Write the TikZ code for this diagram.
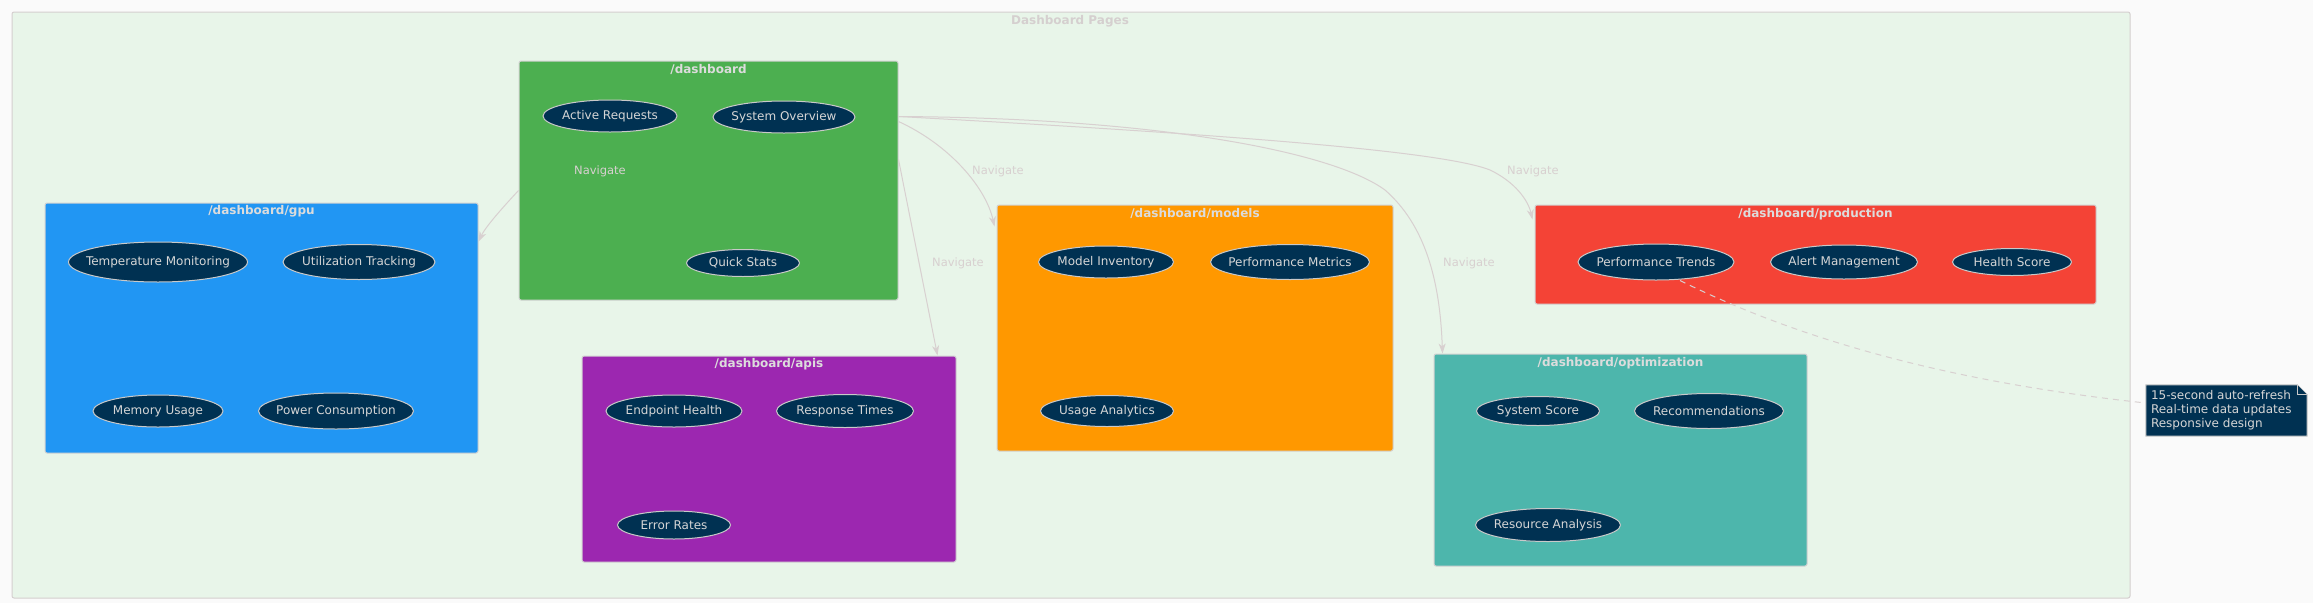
\documentclass[tikz,border=0pt]{standalone}
\usepackage{fontspec}
\setmainfont{DejaVu Sans}
\usetikzlibrary{shapes.geometric,arrows.meta,calc}
\definecolor{pagebg}{HTML}{FAFAFA}
\definecolor{outerfill}{HTML}{E8F5E9}
\definecolor{outerdraw}{HTML}{D5CFCF}
\definecolor{linec}{HTML}{D8D0D0}
\definecolor{navy}{HTML}{003152}
\definecolor{ellline}{HTML}{C9C9C9}
\definecolor{txtlight}{HTML}{D6D6D6}
\definecolor{titletxt}{HTML}{DCDCDC}
\definecolor{boxline}{HTML}{D2D2D2}
\definecolor{cgreen}{HTML}{4CAF50}
\definecolor{cblue}{HTML}{2196F3}
\definecolor{cpurple}{HTML}{9C27B0}
\definecolor{corange}{HTML}{FF9800}
\definecolor{cred}{HTML}{F44336}
\definecolor{cteal}{HTML}{4DB6AC}
\tikzset{
  utext/.style={text=txtlight, inner sep=0pt, font=\fontsize{12}{14}\selectfont},
  ucase/.style={ellipse, fill=navy, draw=ellline, line width=1pt, inner sep=0pt, label={[utext]center:#1}},
  pagebox/.style={rectangle, draw=boxline, line width=1pt, rounded corners=2pt, inner sep=0pt},
  boxtitle/.style={font=\fontsize{12}{14}\selectfont\bfseries, text=titletxt, inner sep=0pt},
  navlabel/.style={font=\fontsize{11.5}{14}\selectfont, text=linec, inner sep=0pt},
  edge/.style={draw=linec, line width=1pt, -{Stealth[length=10pt,width=7pt,inset=3pt]}},
  noteline/.style={draw=linec, line width=1pt, dash pattern=on 6pt off 5pt},
}
\begin{document}
\begin{tikzpicture}[x=1pt,y=-1pt]
\fill[pagebg] (0,0) rectangle (2313,603);
\useasboundingbox (0,0) rectangle (2313,603);
% outer container
\node[rectangle, draw=outerdraw, fill=outerfill, line width=1pt, rounded corners=2pt, minimum width=2118pt, minimum height=586pt, inner sep=0pt] (outer) at (1071,305) {};
\node[font=\fontsize{12}{14}\selectfont\bfseries, text=outerdraw, inner sep=0pt] (outertitle) at (1070,21) {Dashboard Pages};
% page boxes
\node[pagebox, fill=cgreen, minimum width=379pt, minimum height=239pt] (dash) at (708.5,180.5) {};
\node[pagebox, fill=cblue, minimum width=433pt, minimum height=250pt] (gpu) at (261.5,328) {};
\node[pagebox, fill=cpurple, minimum width=374pt, minimum height=206pt] (apis) at (769,459) {};
\node[pagebox, fill=corange, minimum width=396pt, minimum height=246pt] (models) at (1195,328) {};
\node[pagebox, fill=cred, minimum width=561pt, minimum height=99pt] (prod) at (1815.5,254.5) {};
\node[pagebox, fill=cteal, minimum width=373pt, minimum height=212pt] (opt) at (1620.5,460) {};
% titles
\node[boxtitle] (tdash) at (708.5,69) {/dashboard};
\node[boxtitle] (tgpu) at (261.5,211) {/dashboard/gpu};
\node[boxtitle] (tapis) at (769,364) {/dashboard/apis};
\node[boxtitle] (tmodels) at (1195,213) {/dashboard/models};
\node[boxtitle] (tprod) at (1815.5,214) {/dashboard/production};
\node[boxtitle] (topt) at (1620.5,363) {/dashboard/optimization};
% use cases
\node[ucase={Active Requests}, minimum width=134pt, minimum height=32pt] (AR) at (610,116) {};
\node[ucase={System Overview}, minimum width=142pt, minimum height=32pt] (SO) at (784,117) {};
\node[ucase={Quick Stats}, minimum width=113pt, minimum height=27pt] (QS) at (743,263) {};
\node[ucase={Temperature Monitoring}, minimum width=179pt, minimum height=40pt] (TM) at (158,262) {};
\node[ucase={Utilization Tracking}, minimum width=152pt, minimum height=35pt] (UT) at (359,262) {};
\node[ucase={Memory Usage}, minimum width=130pt, minimum height=32pt] (MU) at (158,411) {};
\node[ucase={Power Consumption}, minimum width=155pt, minimum height=36pt] (PC) at (336,411) {};
\node[ucase={Endpoint Health}, minimum width=136pt, minimum height=32pt] (EH) at (674,411) {};
\node[ucase={Response Times}, minimum width=137pt, minimum height=33pt] (RT) at (845,411) {};
\node[ucase={Error Rates}, minimum width=113pt, minimum height=28pt] (ER) at (674,525) {};
\node[ucase={Model Inventory}, minimum width=135pt, minimum height=32pt] (MI) at (1106,262) {};
\node[ucase={Performance Metrics}, minimum width=159pt, minimum height=35pt] (PM) at (1290,262) {};
\node[ucase={Usage Analytics}, minimum width=133pt, minimum height=31pt] (UA) at (1107,411) {};
\node[ucase={Performance Trends}, minimum width=156pt, minimum height=36pt] (PT) at (1656,262) {};
\node[ucase={Alert Management}, minimum width=147pt, minimum height=34pt] (AM) at (1844,262) {};
\node[ucase={Health Score}, minimum width=119pt, minimum height=27pt] (HS) at (2012,262) {};
\node[ucase={System Score}, minimum width=123pt, minimum height=29pt] (SS) at (1538,411) {};
\node[ucase={Recommendations}, minimum width=149pt, minimum height=35pt] (RC) at (1709,411) {};
\node[ucase={Resource Analysis}, minimum width=145pt, minimum height=33pt] (RA) at (1548,525) {};
% connectors
\draw[edge] ([yshift=-130pt]dash.north west) .. controls (505,205) and (486,226) .. ([yshift=-39pt]gpu.north east);
\draw[edge] ([yshift=-61pt]dash.north east) .. controls (950,145) and (986,188) .. ([xshift=-2pt,yshift=-22pt]models.north west);
\draw[edge] ([yshift=-99pt]dash.north east) -- ([xshift=-19pt]apis.north east);
\draw[edge] ([yshift=-56pt]dash.north east) .. controls (1150,118) and (1330,150) .. (1385,190) .. controls (1425,225) and (1440,280) .. ([xshift=9pt]opt.north west);
\draw[edge] ([yshift=-56pt]dash.north east) .. controls (1200,133) and (1440,150) .. (1490,170) .. controls (1515,182) and (1528,200) .. ([xshift=-2pt,yshift=-15pt]prod.north west);
% edge labels
\node[navlabel] (n1) at (600,171) {Navigate};
\node[navlabel] (n2) at (998,171) {Navigate};
\node[navlabel] (n3) at (958,263) {Navigate};
\node[navlabel] (n4) at (1469,263) {Navigate};
\node[navlabel] (n5) at (1533,171) {Navigate};
% note
\node[minimum width=161pt, minimum height=51pt, inner sep=0pt] (note) at (2226.5,410.5) {};
\draw[draw=ellline, fill=navy, line width=1pt] (note.north west) -- ([xshift=-10pt]note.north east) -- ([yshift=-10pt]note.north east) -- (note.south east) -- (note.south west) -- cycle;
\draw[draw=ellline, fill=navy, line width=1pt] ([xshift=-10pt]note.north east) -- ([xshift=-10pt,yshift=-10pt]note.north east) -- ([yshift=-10pt]note.north east);
\node[anchor=north west, align=left, inner sep=0pt, text=txtlight, font=\fontsize{12}{14}\selectfont] (notetext) at ([xshift=5pt,yshift=-5pt]note.north west) {15-second auto-refresh\\Real-time data updates\\Responsive design};
\draw[noteline] ([xshift=24pt]PT.south) .. controls (1800,340) and (1950,382) .. ([yshift=7.5pt]note.west);
\end{tikzpicture}
\end{document}
